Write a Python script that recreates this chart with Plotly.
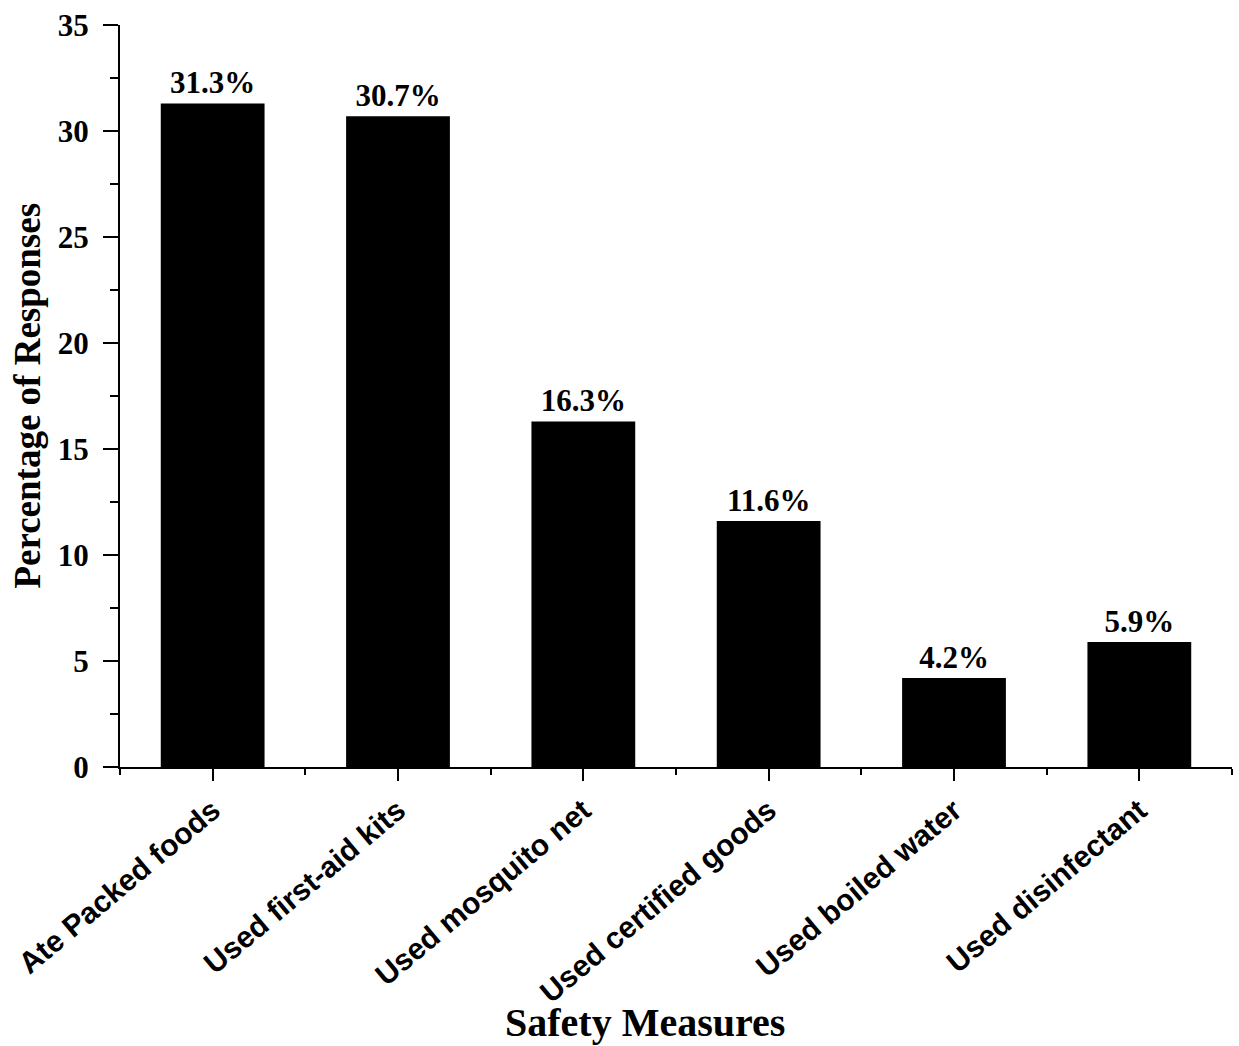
import plotly.graph_objects as go

# Safety measures taken and share of responses (%)
measures = [
    "Ate Packed foods",
    "Used first-aid kits",
    "Used mosquito net",
    "Used certified goods",
    "Used boiled water",
    "Used disinfectant",
]
percentages = [31.3, 30.7, 16.3, 11.6, 4.2, 5.9]
y_ticks = [0, 5, 10, 15, 20, 25, 30, 35]

serif = "Liberation Serif, Times New Roman, serif"
sans = "Liberation Sans, Arial, sans-serif"

positions = list(range(len(measures)))

fig = go.Figure(
    go.Bar(
        x=positions,
        y=percentages,
        width=0.56,
        marker=dict(color="black", line=dict(width=0)),
        text=[f"{v:.1f}%" for v in percentages],
        textposition="outside",
        textfont=dict(family=serif, size=31, color="black", weight="bold"),
        cliponaxis=False,
    )
)

fig.update_layout(
    width=1239,
    height=1046,
    margin=dict(l=120, r=7, t=25, b=279),
    paper_bgcolor="white",
    plot_bgcolor="white",
    showlegend=False,
    bargap=0.44,
)

fig.update_xaxes(
    range=[-0.5, 5.5],
    tickmode="array",
    tickvals=positions,
    ticktext=measures,
    tickangle=-40,
    tickfont=dict(family=sans, size=30, color="black", weight="bold"),
    ticks="outside",
    ticklen=12,
    tickwidth=2,
    tickcolor="black",
    minor=dict(tick0=-0.5, dtick=1, ticks="outside", ticklen=6, tickwidth=2, tickcolor="black"),
    showline=True,
    linewidth=2,
    linecolor="black",
    showgrid=False,
    zeroline=False,
)

fig.update_yaxes(
    range=[0, 35],
    tickmode="array",
    tickvals=y_ticks,
    tickfont=dict(family=serif, size=31, color="black", weight="bold"),
    ticks="outside",
    ticklen=15,
    tickwidth=2,
    tickcolor="black",
    ticklabelstandoff=8,
    minor=dict(dtick=2.5, ticks="outside", ticklen=8, tickwidth=2, tickcolor="black"),
    showline=True,
    linewidth=2,
    linecolor="black",
    showgrid=False,
    zeroline=False,
)

fig.add_annotation(
    text="Percentage of Responses",
    xref="paper", yref="paper",
    x=-0.084, y=0.5,
    xanchor="center", yanchor="middle",
    textangle=-90,
    showarrow=False,
    font=dict(family=serif, size=37, color="black", weight="bold"),
)

fig.add_annotation(
    text="Safety Measures",
    xref="paper", yref="paper",
    x=0.472, y=-0.344,
    xanchor="center", yanchor="middle",
    showarrow=False,
    font=dict(family=serif, size=40, color="black", weight="bold"),
)

fig.write_html("out.html")
